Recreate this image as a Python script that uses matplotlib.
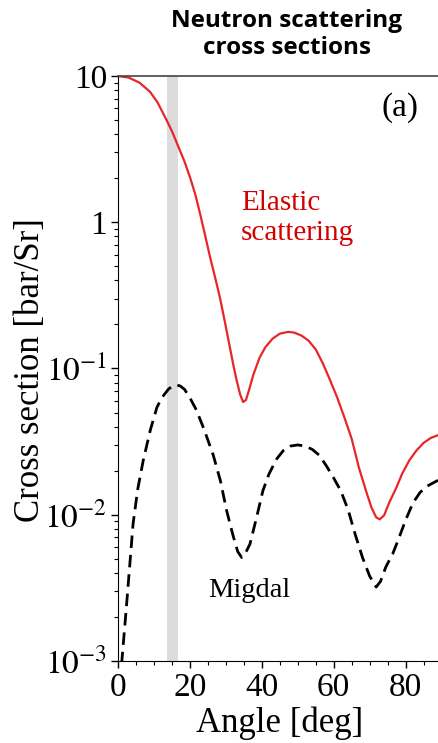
import matplotlib
matplotlib.use("Agg")
import matplotlib.pyplot as plt

plt.rcParams['font.family'] = ['Liberation Serif', 'DejaVu Serif']
plt.rcParams['mathtext.fontset'] = 'stix'

# elastic scattering cross section
elastic_angle = [0, 3, 6, 8.9, 11, 13.5, 15, 16.8, 18.5, 20, 21.5, 22.8, 24.2, 25.6,
                 27, 28.3, 29.7, 31.1, 32.1, 33, 34, 34.8, 35.6, 36.5, 37.6, 39.4,
                 41, 43, 45, 47.3, 49, 51, 53, 55, 57, 59, 61, 63, 65, 67, 69, 70.5,
                 71.8, 72.8, 74, 75.5, 77.4, 79, 81, 83, 85, 87, 89]
elastic_xs = [10, 9.75, 9.0, 7.8, 6.6, 5.0, 4.2, 3.28, 2.6, 2.04, 1.55, 1.15, 0.82,
              0.578, 0.42, 0.309, 0.21, 0.14, 0.105, 0.083, 0.066, 0.059, 0.061,
              0.072, 0.090, 0.119, 0.140, 0.160, 0.173, 0.178, 0.176, 0.168, 0.155,
              0.135, 0.108, 0.083, 0.063, 0.046, 0.033, 0.021, 0.0145, 0.0112,
              0.0096, 0.0093, 0.0099, 0.0122, 0.0153, 0.019, 0.0235, 0.0275, 0.031,
              0.0335, 0.035]

# Migdal cross section
migdal_angle = [1.0, 2.4, 4.2, 5.5, 7, 9, 10.8, 12, 13, 14, 15, 16.3, 17.3, 18.5, 20,
                21.8, 24, 26.5, 28.5, 30.2, 32, 33.3, 34.4, 35.5, 36.7, 38.5, 40.3,
                42, 44.1, 46, 48, 50, 52, 54, 56, 58, 60, 62, 64, 66, 68, 70, 71.8,
                73, 74.5, 76.4, 78, 80, 82, 84, 86, 89]
migdal_xs = [0.00095, 0.00245, 0.0087, 0.015, 0.0234, 0.038, 0.054, 0.062, 0.067,
             0.072, 0.0755, 0.077, 0.076, 0.072, 0.063, 0.052, 0.038, 0.0255, 0.017,
             0.0107, 0.0072, 0.0056, 0.0051, 0.0055, 0.0063, 0.0095, 0.0146, 0.019,
             0.024, 0.0275, 0.0295, 0.030, 0.0295, 0.028, 0.0255, 0.0215, 0.0178,
             0.0145, 0.0108, 0.0073, 0.0051, 0.0038, 0.0032, 0.0035, 0.0044, 0.0054,
             0.0068, 0.0092, 0.012, 0.0142, 0.0157, 0.0172]

band = (13.5, 16.7)
yticks = [1e-3, 1e-2, 1e-1, 1, 10]
ytick_labels = ['$10^{-3}$', '$10^{-2}$', '$10^{-1}$', '1', '10']
xticks = [0, 20, 40, 60, 80]

fig = plt.figure(figsize=(4.38, 7.43), dpi=100)
ax = fig.add_axes([0.2694, 0.1104, 0.7306, 0.7873])

ax.axvspan(band[0], band[1], color='#dcdcdc', lw=0, zorder=0)
ax.plot(elastic_angle, elastic_xs, color='#e8262a', lw=1.6)
ax.plot(migdal_angle, migdal_xs, color='black', lw=2, ls=(0, (4.5, 2.5)))

ax.set_yscale('log')
ax.set_xlim(0, 89)
ax.set_ylim(1e-3, 10)
ax.set_yticks(yticks, ytick_labels)
ax.set_xticks(xticks)
ax.set_xticks(range(0, 90, 5), minor=True)
ax.tick_params(axis='both', which='major', labelsize=24, length=5, width=1, pad=3)
ax.tick_params(axis='both', which='minor', length=3, width=0.8)

ax.spines['right'].set_visible(False)
ax.spines['top'].set_color('#444444')
ax.spines['top'].set_linewidth(1.2)

ax.set_xlabel('Angle [deg]', fontsize=25)
ax.set_ylabel('Cross section [bar/Sr]', fontsize=25)
ax.xaxis.set_label_coords(0.506, -0.078)
ax.yaxis.set_label_coords(-0.222, 0.497)

ax.text(78.3, 6.1, '(a)', fontsize=24, ha='center', va='center')
ax.text(34.2, 1.07, 'Elastic\nscattering', fontsize=21, color='#d40000',
        ha='left', va='center', linespacing=1.2)
ax.text(25, 0.00275, 'Migdal', fontsize=20.5, ha='left', va='baseline')

fig.text(0.655, 0.954, 'Neutron scattering\ncross sections', fontsize=17.5,
         fontweight='bold', family=['Open Sans', 'DejaVu Sans'],
         ha='center', va='center', linespacing=1.15)

fig.savefig('out.png', dpi=100)
